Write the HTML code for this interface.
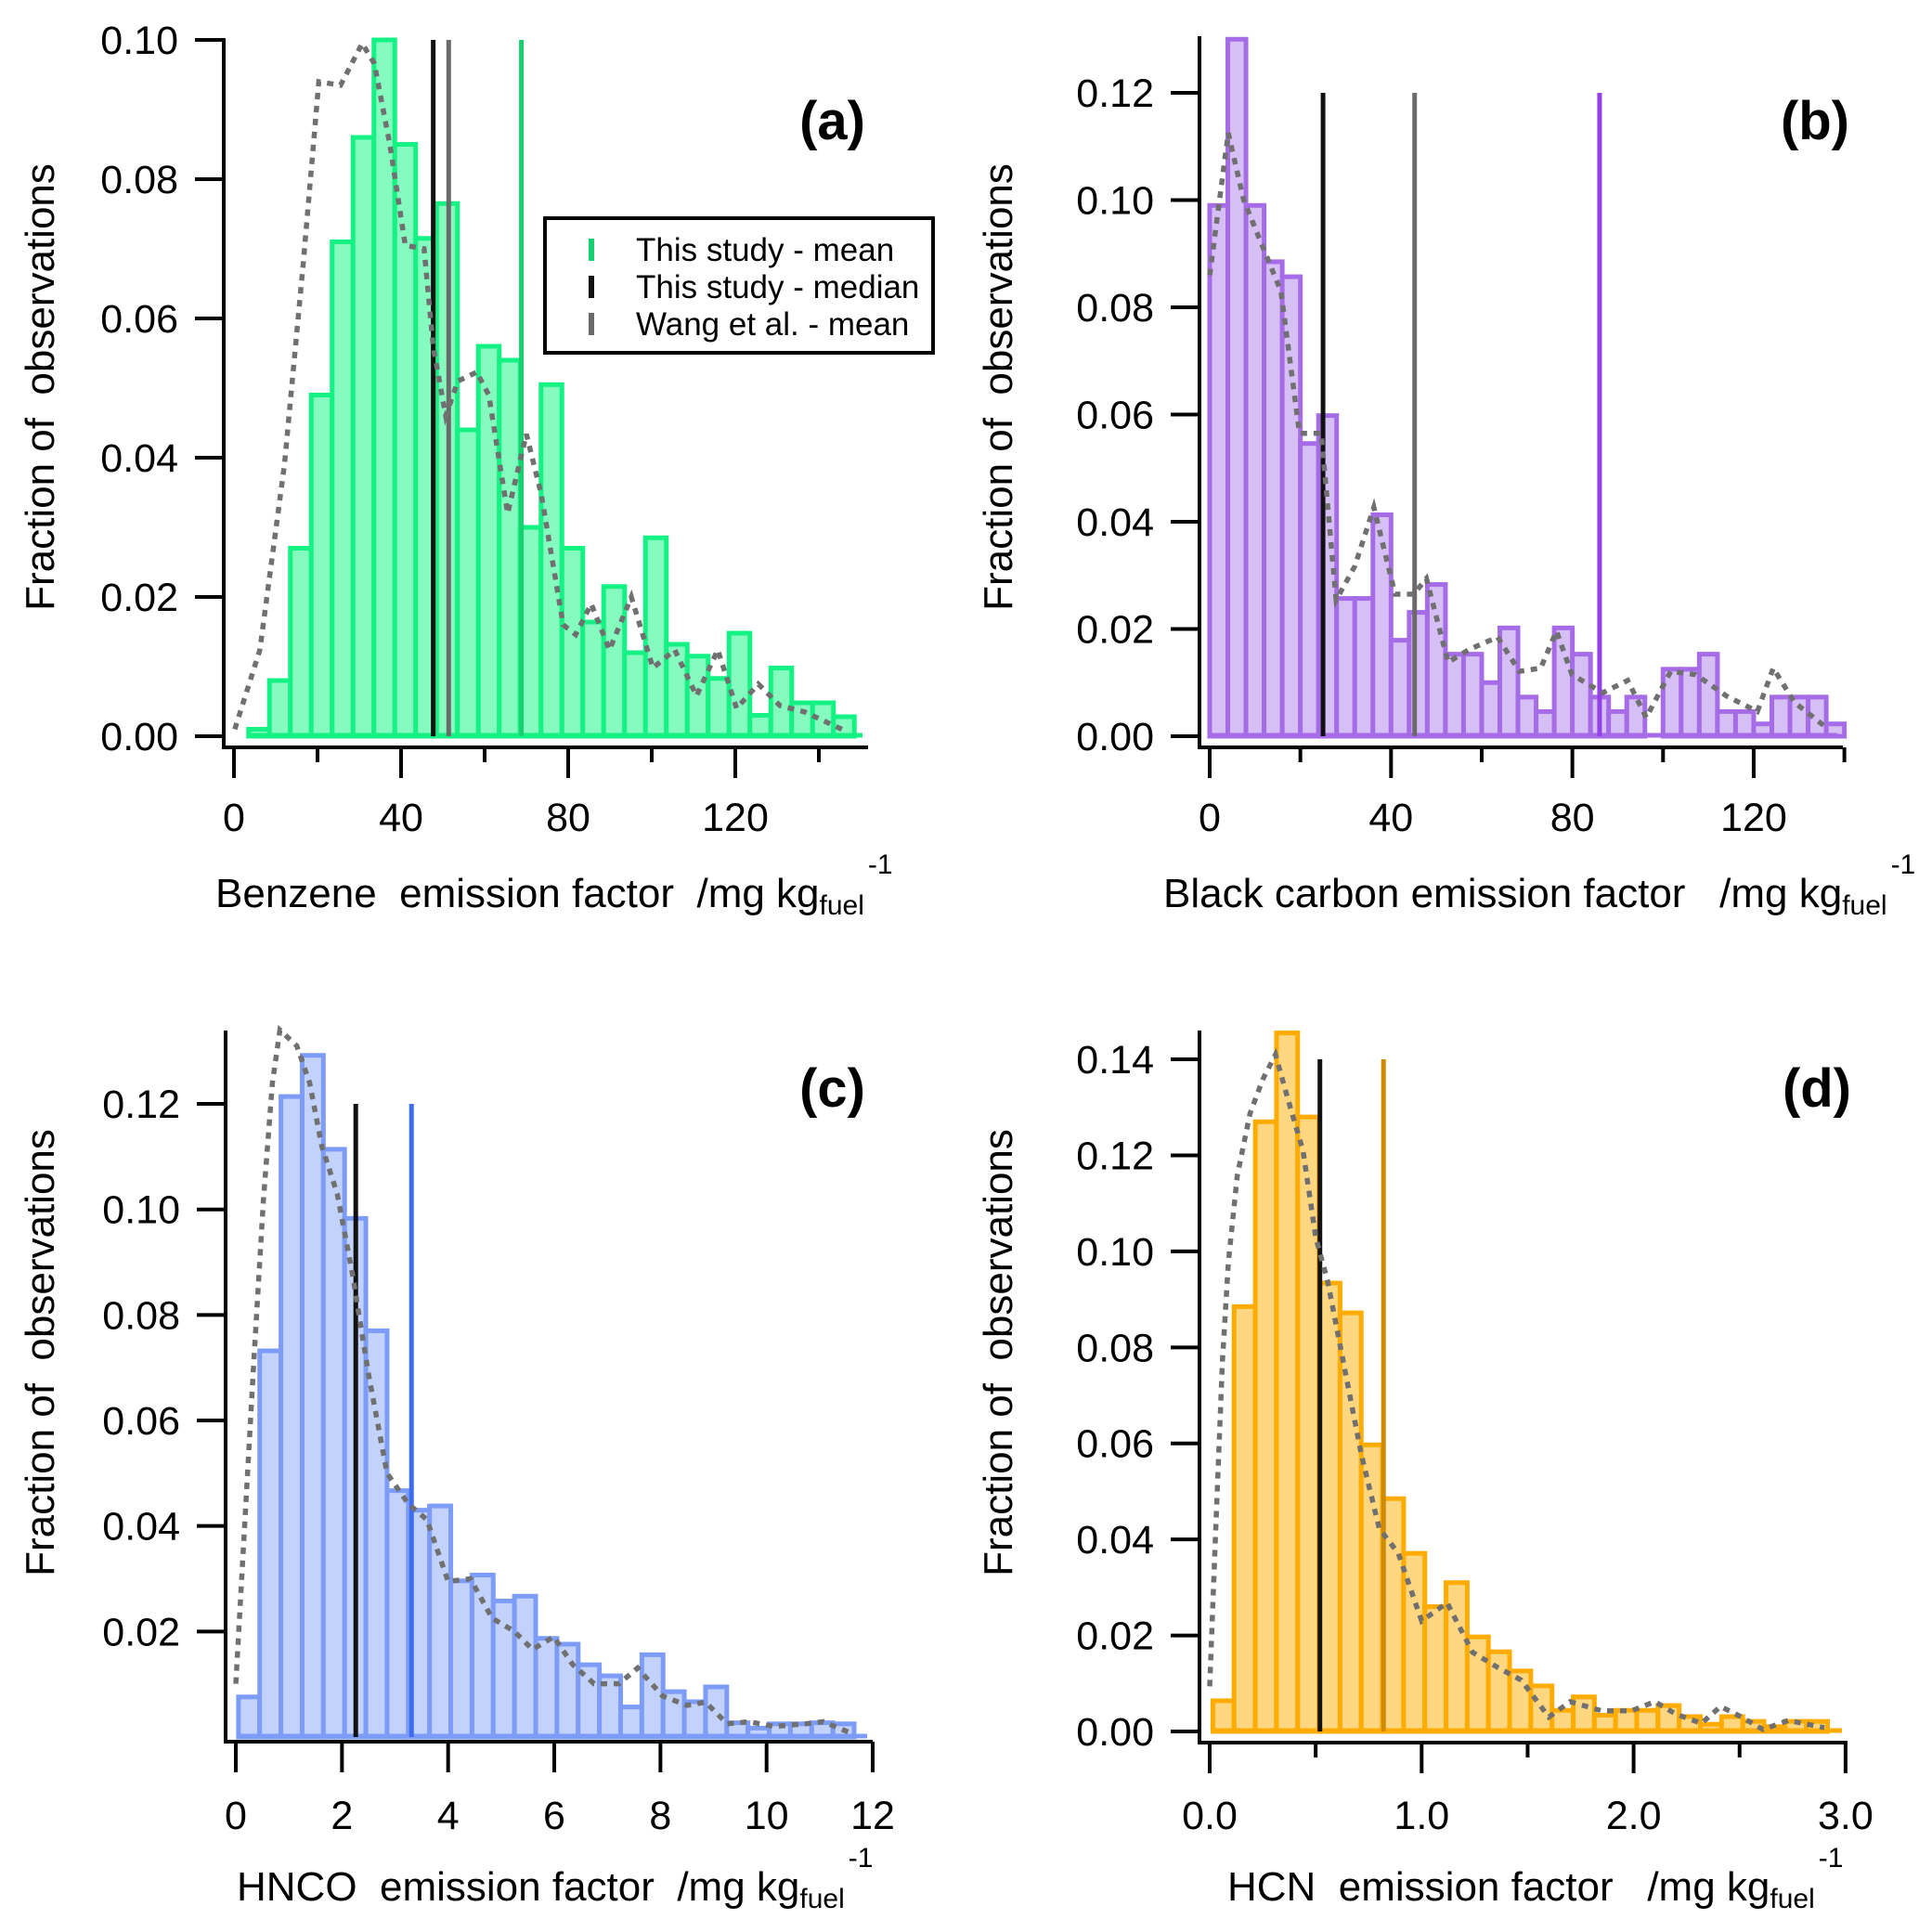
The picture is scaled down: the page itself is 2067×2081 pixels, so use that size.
<!DOCTYPE html>
<html><head><meta charset="utf-8"><title>Emission factor histograms</title>
<style>
html,body{margin:0;padding:0;background:#fff;}
svg{display:block;font-family:"Liberation Sans",Arial,sans-serif;}
text{white-space:pre;}
</style></head>
<body>
<svg id="fig" width="2067" height="2081" viewBox="0 0 2067 2081" xmlns="http://www.w3.org/2000/svg"></svg>
<script>
// ---------- Panel (a) Benzene ----------
const aBinStart = 3.5;
const aBinWidth = 5;
const aCounts = [0.001,0.008,0.027,0.049,0.071,0.086,0.100,0.085,0.0715,0.0765,0.044,0.056,0.054,0.030,0.0505,0.027,0.0164,0.0215,0.012,0.0285,0.0132,0.0115,0.0083,0.0148,0.003,0.0098,0.0048,0.0048,0.0028];
const aKdeX = [0.2,6.2,12.1,16.6,20.3,25.5,30.7,33.6,37.3,41,45.5,47.7,50.7,53.6,58.1,61,65.5,70,73.6,78.8,81.8,85.5,89.9,95.1,100.3,105.5,110.7,115.8,120.3,125.5,130.7,136.6,145.5];
const aKdeY = [0.001,0.0124,0.039,0.068,0.094,0.0935,0.0995,0.0966,0.085,0.0705,0.070,0.056,0.046,0.051,0.0523,0.049,0.032,0.0434,0.0346,0.016,0.0146,0.019,0.0124,0.020,0.0098,0.0124,0.0058,0.0124,0.004,0.0075,0.0044,0.0035,0.001];
const aLines = [47.7, 51.4, 68.8];
const aLineTop = [0.10, 0.10, 0.10];
const aXTicks = [0,40,80,120];
const aXMinor = [20,60,100,140];
const aYTicks = [0,0.02,0.04,0.06,0.08,0.10];
const aYLabels = ["0.00","0.02","0.04","0.06","0.08","0.10"];
const aXLabels = ["0","40","80","120"];

// ---------- Panel (b) Black carbon ----------
const bBinStart = 0;
const bBinWidth = 4;
const bCounts = [0.099,0.130,0.099,0.0885,0.0857,0.0546,0.0598,0.0257,0.0257,0.0413,0.0179,0.0231,0.0283,0.0153,0.0153,0.010,0.0202,0.0073,0.0046,0.0202,0.0153,0.0073,0.0046,0.0073,0,0.0125,0.0125,0.0153,0.0046,0.0046,0.0023,0.0073,0.0073,0.0073,0.0023];
const bKdeX = [0,4.1,7.5,12.9,15.7,19.8,24.6,27.9,32,36.2,40.9,45,47.8,52.6,57.3,63.5,68.3,73,76.5,79.9,86.7,92.2,96.3,101.7,107.2,114,120.8,124.3,129,135.9];
const bKdeY = [0.086,0.1125,0.100,0.0888,0.083,0.0565,0.0565,0.0254,0.0317,0.0427,0.0265,0.0265,0.0294,0.0138,0.0162,0.0185,0.0121,0.0127,0.0196,0.0115,0.0081,0.0104,0.0035,0.0121,0.0115,0.0075,0.0046,0.0127,0.0063,0.0017];
const bLines = [25, 45.2, 86];
const bLineTop = [0.12, 0.12, 0.12];
const bXTicks = [0,40,80,120];
const bXMinor = [20,60,100,140];
const bYTicks = [0,0.02,0.04,0.06,0.08,0.10,0.12];
const bYLabels = ["0.00","0.02","0.04","0.06","0.08","0.10","0.12"];
const bXLabels = ["0","40","80","120"];

// ---------- Panel (c) HNCO ----------
const cBinStart = 0.05;
const cBinWidth = 0.4;
const cCounts = [0.0076,0.0732,0.1214,0.1292,0.1114,0.0983,0.0770,0.0467,0.043,0.0438,0.0296,0.0307,0.0258,0.0267,0.0187,0.0176,0.0137,0.0116,0.0057,0.0156,0.0086,0.0067,0.0095,0.0027,0.0017,0.0025,0.0025,0.0027,0.0025];
const cKdeX = [0,0.17,0.34,0.52,0.69,0.83,1.15,1.39,1.62,1.91,2.2,2.5,2.85,3.25,3.6,4.0,4.42,4.83,5.24,5.59,5.99,6.35,6.75,7.22,7.57,8.04,8.5,8.85,9.26,9.67,10.14,10.72,11.07,11.6];
const cKdeY = [0.0101,0.0407,0.0712,0.1017,0.124,0.134,0.131,0.124,0.112,0.103,0.0876,0.0688,0.050,0.0442,0.0412,0.0295,0.030,0.0225,0.0201,0.0166,0.019,0.0137,0.0101,0.0101,0.0131,0.0078,0.006,0.0066,0.0025,0.0029,0.002,0.0025,0.0029,0.0007];
const cLines = [2.26, 3.31];
const cLineTop = [0.12, 0.12];
const cXTicks = [0,2,4,6,8,10,12];
const cXMinor = [];
const cYTicks = [0.02,0.04,0.06,0.08,0.10,0.12];
const cYLabels = ["0.02","0.04","0.06","0.08","0.10","0.12"];
const cXLabels = ["0","2","4","6","8","10","12"];

// ---------- Panel (d) HCN ----------
const dBinStart = 0.015;
const dBinWidth = 0.1;
const dCounts = [0.0064,0.0885,0.127,0.1455,0.128,0.0934,0.0872,0.0597,0.0485,0.0371,0.026,0.031,0.0197,0.0166,0.0126,0.0095,0.0044,0.0072,0.0034,0.0044,0.0044,0.0054,0.0031,0.0015,0.0031,0.0021,0.001,0.0021,0.0021];
const dKdeX = [0,0.03,0.06,0.088,0.13,0.19,0.25,0.31,0.38,0.44,0.5,0.556,0.63,0.715,0.8,0.89,1.0,1.12,1.24,1.36,1.47,1.6,1.7,1.85,1.99,2.1,2.2,2.32,2.41,2.51,2.61,2.73,2.9];
const dKdeY = [0.0094,0.0436,0.0771,0.0977,0.1158,0.1287,0.1358,0.141,0.13,0.121,0.1029,0.0939,0.0771,0.0578,0.0423,0.0371,0.023,0.0268,0.0165,0.0133,0.0107,0.003,0.0062,0.0043,0.0043,0.0062,0.0036,0.0017,0.0052,0.003,0.0004,0.0023,0.0008];
const dLines = [0.52, 0.82];
const dLineTop = [0.14, 0.14];
const dXTicks = [0,1,2,3];
const dXMinor = [0.5,1.5,2.5];
const dYTicks = [0,0.02,0.04,0.06,0.08,0.10,0.12,0.14];
const dYLabels = ["0.00","0.02","0.04","0.06","0.08","0.10","0.12","0.14"];
const dXLabels = ["0.0","1.0","2.0","3.0"];

const NS = "http://www.w3.org/2000/svg";
const svg = document.getElementById("fig");
function mk(parent, tag, attrs, txt){
  const e = document.createElementNS(NS, tag);
  for (const k in attrs) e.setAttribute(k, attrs[k]);
  if (txt !== undefined) e.textContent = txt;
  parent.appendChild(e);
  return e;
}

function drawPanel(id, p, d){
  const g = mk(svg, "g", {});
  
  
  const X = v => p.x0 + v * p.ppu;
  const Y = v => p.y0 - v * p.ppv;

  const bars = mk(g, "g", {});
  
  
  d.counts.forEach((c, i) => {
    const x1 = X(d.binStart + i * d.binWidth), x2 = X(d.binStart + (i + 1) * d.binWidth);
    const r = mk(bars, "rect", {x:x1, y:Y(c), width:x2-x1, height:Math.max(0, Y(0)-Y(c)), fill:p.fill, stroke:p.stroke, "stroke-width":5});
    
    
  });
  const base = mk(g, "line", {x1:X(d.binStart), x2:p.xRight-6, y1:Y(0)-1, y2:Y(0)-1, stroke:p.stroke, "stroke-width":5});
  
  

  d.lines.forEach((v, i) => {
    const l = mk(g, "line", {x1:X(v), x2:X(v), y1:Y(0), y2:Y(d.lineTop[i]), stroke:p.lineColors[i], "stroke-width":5});
    
    
  });

  let pts = d.kdeX.map((x, i) => X(x).toFixed(1) + "," + Y(d.kdeY[i]).toFixed(1)).join(" ");
  const k = mk(g, "polyline", {points:pts, fill:"none", stroke:"#707070", "stroke-width":5.5, "stroke-dasharray":"7,7"});
  
  

  const ya = mk(g, "line", {x1:p.ax, x2:p.ax, y1:p.yTop, y2:p.xAxisY+2, stroke:"#000", "stroke-width":4});
  
  
  const xa = mk(g, "line", {x1:p.ax-2, x2:p.xRight, y1:p.xAxisY, y2:p.xAxisY, stroke:"#000", "stroke-width":4});
  
  

  d.yTicks.forEach((v, i) => {
    const t = mk(g, "line", {x1:p.ax-31, x2:p.ax, y1:Y(v), y2:Y(v), stroke:"#000", "stroke-width":4});
    
    
    const tl = mk(g, "text", {x:p.ax-49, y:Y(v)+15, "text-anchor":"end", "font-size":43, fill:"#000"}, d.yLabels[i]);
    
    
  });
  d.xTicks.forEach((v, i) => {
    const t = mk(g, "line", {x1:X(v), x2:X(v), y1:p.xAxisY, y2:p.xAxisY+33, stroke:"#000", "stroke-width":4});
    
    
    const tl = mk(g, "text", {x:X(v), y:p.xLabY, "text-anchor":"middle", "font-size":43, fill:"#000"}, d.xLabels[i]);
    
    
  });
  d.xMinor.forEach(v => {
    const t = mk(g, "line", {x1:X(v), x2:X(v), y1:p.xAxisY, y2:p.xAxisY+16, stroke:"#000", "stroke-width":4});
    
    
  });

  const yt = mk(g, "text", {x:0, y:0, transform:"translate(" + p.yTitleX + "," + p.yTitleY + ") rotate(-90)", "text-anchor":"middle", "font-size":44, fill:"#000"}, "Fraction of  observations");
  
  

  const xt = mk(g, "text", {x:p.xTitleX, y:p.xTitleY, "font-size":44, fill:"#000"});
  
  
  mk(xt, "tspan", {}, p.xTitle + "  /mg kg");
  mk(xt, "tspan", {"font-size":30, dy:8}, "fuel");
  mk(xt, "tspan", {"font-size":30, dy:-44, dx:4}, "-1");

  const pl = mk(g, "text", {x:p.letterX, y:p.letterY, "text-anchor":"end", "font-size":58, "font-weight":"bold", fill:"#000"}, "(" + id + ")");
  
  
}

drawPanel("a", {x0:252, ppu:4.5, y0:793, ppv:7500, ax:241, yTop:41, xAxisY:805, xRight:935, xLabY:895,
  fill:"#86fbc0", stroke:"#14f283", lineColors:["#111","#6a6a6a","#18d070"],
  lineNames:["median-line","wang-mean-line","mean-line"],
  yTitleX:58, yTitleY:417, xTitleX:232, xTitleY:977, xTitle:"Benzene  emission factor", letterX:932, letterY:150},
  {binStart:aBinStart, binWidth:aBinWidth, counts:aCounts, kdeX:aKdeX, kdeY:aKdeY, lines:aLines, lineTop:aLineTop,
   xTicks:aXTicks, xMinor:aXMinor, yTicks:aYTicks, yLabels:aYLabels, xLabels:aXLabels});

drawPanel("b", {x0:1303, ppu:4.883, y0:793, ppv:5775, ax:1292, yTop:39, xAxisY:805, xRight:1985, xLabY:895,
  fill:"#d6bff4", stroke:"#a66ce8", lineColors:["#111","#6a6a6a","#9440e8"],
  lineNames:["median-line","wang-mean-line","mean-line"],
  yTitleX:1090, yTitleY:417, xTitleX:1253, xTitleY:977, xTitle:"Black carbon emission factor ", letterX:1992, letterY:150},
  {binStart:bBinStart, binWidth:bBinWidth, counts:bCounts, kdeX:bKdeX, kdeY:bKdeY, lines:bLines, lineTop:bLineTop,
   xTicks:bXTicks, xMinor:bXMinor, yTicks:bYTicks, yLabels:bYLabels, xLabels:bXLabels});

drawPanel("c", {x0:254, ppu:57.17, y0:1871, ppv:5683, ax:243, yTop:1110, xAxisY:1876, xRight:940, xLabY:1970,
  fill:"#c3d2fa", stroke:"#7c9cf7", lineColors:["#111","#3c6cf0"],
  lineNames:["median-line","mean-line"],
  yTitleX:58, yTitleY:1457, xTitleX:255, xTitleY:2047, xTitle:"HNCO  emission factor", letterX:932, letterY:1192},
  {binStart:cBinStart, binWidth:cBinWidth, counts:cCounts, kdeX:cKdeX, kdeY:cKdeY, lines:cLines, lineTop:cLineTop,
   xTicks:cXTicks, xMinor:cXMinor, yTicks:cYTicks, yLabels:cYLabels, xLabels:cXLabels});

drawPanel("d", {x0:1303, ppu:228.3, y0:1865, ppv:5171, ax:1292, yTop:1110, xAxisY:1877, xRight:1990, xLabY:1970,
  fill:"#ffd780", stroke:"#ffab00", lineColors:["#111","#d08a00"],
  lineNames:["median-line","mean-line"],
  yTitleX:1090, yTitleY:1457, xTitleX:1322, xTitleY:2047, xTitle:"HCN  emission factor ", letterX:1994, letterY:1192},
  {binStart:dBinStart, binWidth:dBinWidth, counts:dCounts, kdeX:dKdeX, kdeY:dKdeY, lines:dLines, lineTop:dLineTop,
   xTicks:dXTicks, xMinor:dXMinor, yTicks:dYTicks, yLabels:dYLabels, xLabels:dXLabels});

const lg = mk(svg, "g", {});


const lb = mk(lg, "rect", {x:587, y:235, width:418, height:145, fill:"#fff", stroke:"#000", "stroke-width":4});


const legendLabels = ["This study - mean", "This study - median", "Wang et al. - mean"];
const legendColors = ["#18d070", "#111", "#6a6a6a"];
legendLabels.forEach((t, i) => {
  const y = 269 + i * 40;
  const m = mk(lg, "rect", {x:634, y:y-12, width:6, height:24, fill:legendColors[i]});
  
  
  const tx = mk(lg, "text", {x:685, y:y+12, "font-size":35, fill:"#000"}, t);
  
  
});
</script>
</body></html>
